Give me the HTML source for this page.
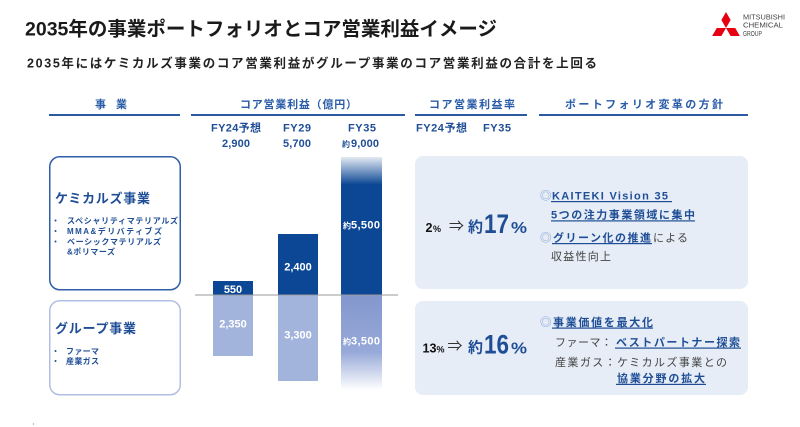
<!DOCTYPE html>
<html><head><meta charset="utf-8"><style>
html,body{margin:0;padding:0;background:#fff;}
svg{display:block;}
text{font-family:"Liberation Sans","Noto Sans CJK JP",sans-serif;}
</style></head><body>
<svg width="800" height="427" viewBox="0 0 800 427" xmlns="http://www.w3.org/2000/svg">
<defs>
<linearGradient id="g3u" x1="0" y1="157" x2="0" y2="295" gradientUnits="userSpaceOnUse">
<stop offset="0" stop-color="#e4eaf3"/>
<stop offset="0.2" stop-color="#0b4794"/>
<stop offset="1" stop-color="#0b4794"/>
</linearGradient>
<linearGradient id="g3l" x1="0" y1="295" x2="0" y2="390" gradientUnits="userSpaceOnUse">
<stop offset="0" stop-color="#8497cd"/>
<stop offset="0.6" stop-color="#97a9d8"/>
<stop offset="1" stop-color="#ffffff"/>
</linearGradient>
</defs>
<rect width="800" height="427" fill="#fff"/>

<!-- Title -->
<text x="25" y="35.5" font-size="19.5" font-weight="700" fill="#1a1a1a" textLength="472">2035年の事業ポートフォリオとコア営業利益イメージ</text>
<text x="27" y="67.5" font-size="12.5" font-weight="700" fill="#222" textLength="570">2035年にはケミカルズ事業のコア営業利益がグループ事業のコア営業利益の合計を上回る</text>

<!-- Logo -->
<g fill="#e60012">
<polygon points="726,28 730.62,20 726,12 721.38,20"/>
<polygon points="726,28 721.38,36 712.14,36 716.76,28"/>
<polygon points="726,28 730.62,36 739.86,36 735.24,28"/>
</g>
<text x="743" y="19.5" font-size="7.4" fill="#444" textLength="42" lengthAdjust="spacingAndGlyphs">MITSUBISHI</text>
<text x="743" y="27.7" font-size="7.4" fill="#444" textLength="40" lengthAdjust="spacingAndGlyphs">CHEMICAL</text>
<text x="743" y="36" font-size="7.4" fill="#444" textLength="19" lengthAdjust="spacingAndGlyphs">GROUP</text>

<!-- Header row -->
<g font-size="11" font-weight="700" fill="#2a5ca8">
<text x="95" y="108" textLength="32">事　業</text>
<text x="240" y="108" textLength="117">コア営業利益（億円）</text>
<text x="429" y="108" textLength="86">コア営業利益率</text>
<text x="565" y="108" textLength="158">ポートフォリオ変革の方針</text>
</g>
<g fill="#2c5aa0">
<rect x="49" y="114" width="131" height="2"/>
<rect x="191" y="114" width="214" height="2"/>
<rect x="415" y="114" width="112" height="2"/>
<rect x="539" y="114" width="209" height="2"/>
</g>

<!-- Column headers -->
<g font-size="11" font-weight="700" fill="#1f4e96">
<text x="211" y="131.5" textLength="50">FY24予想</text>
<text x="222" y="147" textLength="28">2,900</text>
<text x="283" y="131.5" textLength="28">FY29</text>
<text x="283" y="147" textLength="28">5,700</text>
<text x="348" y="131.5" textLength="28">FY35</text>
<text x="342" y="147" font-size="8">約</text>
<text x="351" y="147" textLength="28">9,000</text>
<text x="416" y="131.5" textLength="51">FY24予想</text>
<text x="483" y="131.5" textLength="28">FY35</text>
</g>

<!-- Left boxes -->
<rect x="49.75" y="156.75" width="130.5" height="133" rx="10" fill="#fff" stroke="#2f5ea8" stroke-width="1.5"/>
<rect x="49.75" y="300.75" width="130.5" height="94" rx="10" fill="#fff" stroke="#b0bfe3" stroke-width="1.5"/>
<g fill="#1f4e96" font-weight="700">
<text x="55" y="203" font-size="13" textLength="95">ケミカルズ事業</text>
<text x="67" y="223.5" font-size="8" textLength="111">スペシャリティマテリアルズ</text>
<text x="67" y="234" font-size="8" textLength="95">MMA&amp;デリバティブズ</text>
<text x="67" y="244.5" font-size="8" textLength="94">ベーシックマテリアルズ</text>
<text x="67" y="254.5" font-size="8" textLength="48">&amp;ポリマーズ</text>
<text x="55" y="333" font-size="13" textLength="81">グループ事業</text>
<text x="66" y="354" font-size="8" textLength="33">ファーマ</text>
<text x="66" y="364" font-size="8" textLength="33">産業ガス</text>
<circle cx="55.5" cy="220.5" r="1"/>
<circle cx="55.5" cy="231" r="1"/>
<circle cx="55.5" cy="241.5" r="1"/>
<circle cx="55.5" cy="351" r="1"/>
<circle cx="55.5" cy="361" r="1"/>
</g>

<!-- Bars -->
<rect x="213" y="281" width="40" height="14" fill="#0b4794"/>
<rect x="213" y="295" width="40" height="61" fill="#a3b4dc"/>
<rect x="278" y="234" width="40" height="61" fill="#0b4794"/>
<rect x="278" y="295" width="40" height="86" fill="#a3b4dc"/>
<rect x="341" y="157" width="41" height="138" fill="url(#g3u)"/>
<rect x="341" y="295" width="41" height="95" fill="url(#g3l)"/>
<rect x="195" y="294.5" width="203" height="1" fill="#9a9a9a"/>

<g font-size="11" font-weight="700" fill="#fff" text-anchor="middle">
<text x="233" y="293">550</text>
<text x="298" y="270.5">2,400</text>
<text x="233" y="327.3">2,350</text>
<text x="298" y="338.3">3,300</text>
</g>
<g font-weight="700" fill="#fff">
<text x="343" y="228.3" font-size="8">約</text>
<text x="351" y="228.3" font-size="11" textLength="29">5,500</text>
<text x="343" y="344.3" font-size="8">約</text>
<text x="351" y="344.3" font-size="11" textLength="29">3,500</text>
</g>

<!-- Right panels -->
<rect x="415" y="156" width="333" height="133" rx="8" fill="#e6edf6"/>
<rect x="415" y="301" width="333" height="94" rx="8" fill="#e6edf6"/>

<!-- Panel 1 numbers -->
<text x="425.5" y="232" font-size="12.5" font-weight="700" fill="#111">2</text>
<text x="433" y="232" font-size="9" font-weight="700" fill="#111">%</text>
<text x="449" y="231" font-size="15" fill="#333" textLength="15" lengthAdjust="spacingAndGlyphs">⇒</text>
<text x="468" y="232" font-size="15" font-weight="700" fill="#1f4e96">約</text>
<text x="484" y="233" font-size="27" font-weight="700" fill="#1f4e96" textLength="25" lengthAdjust="spacingAndGlyphs">17</text>
<text x="511" y="233" font-size="15.5" font-weight="700" fill="#1f4e96" textLength="16" lengthAdjust="spacingAndGlyphs">%</text>

<!-- Panel 2 numbers -->
<text x="422.5" y="352.5" font-size="12.5" font-weight="700" fill="#111" textLength="14" lengthAdjust="spacingAndGlyphs">13</text>
<text x="436.5" y="352.5" font-size="9" font-weight="700" fill="#111">%</text>
<text x="447.5" y="351" font-size="15" fill="#333" textLength="15" lengthAdjust="spacingAndGlyphs">⇒</text>
<text x="468" y="352.5" font-size="15" font-weight="700" fill="#1f4e96">約</text>
<text x="484" y="353.5" font-size="27" font-weight="700" fill="#1f4e96" textLength="25" lengthAdjust="spacingAndGlyphs">16</text>
<text x="511" y="353.5" font-size="15.5" font-weight="700" fill="#1f4e96" textLength="16" lengthAdjust="spacingAndGlyphs">%</text>

<!-- Panel text -->
<g font-size="11.5" fill="#7c9ad6">
<text x="540" y="199.5">◎</text>
<text x="540" y="241.5">◎</text>
<text x="540" y="326">◎</text>
</g>
<g font-size="11" font-weight="700" fill="#1f4e96">
<text x="552" y="199.5" textLength="116">KAITEKI Vision 35</text>
<text x="551" y="218.5" textLength="144">5つの注力事業領域に集中</text>
<text x="553" y="241.5" textLength="98">グリーン化の推進</text>
<text x="553" y="326" textLength="100">事業価値を最大化</text>
<text x="616" y="346" textLength="124">ベストパートナー探索</text>
<text x="617" y="382" textLength="88">協業分野の拡大</text>
</g>
<g font-size="11" fill="#444">
<text x="653" y="241.5" textLength="35">による</text>
<text x="551" y="260" textLength="60">収益性向上</text>
<text x="555" y="346" textLength="57">ファーマ：</text>
<text x="555" y="366" textLength="172">産業ガス：ケミカルズ事業との</text>
</g>
<g fill="#1f4e96">
<rect x="551" y="201" width="121" height="1.2"/>
<rect x="551" y="220.3" width="144" height="1.2"/>
<rect x="552" y="243" width="100" height="1.2"/>
<rect x="552" y="327.5" width="101" height="1.2"/>
<rect x="615" y="347.5" width="126" height="1.2"/>
<rect x="616" y="383.8" width="90" height="1.2"/>
</g>

<circle cx="33.5" cy="424" r="0.6" fill="#888"/>
</svg>
</body></html>
